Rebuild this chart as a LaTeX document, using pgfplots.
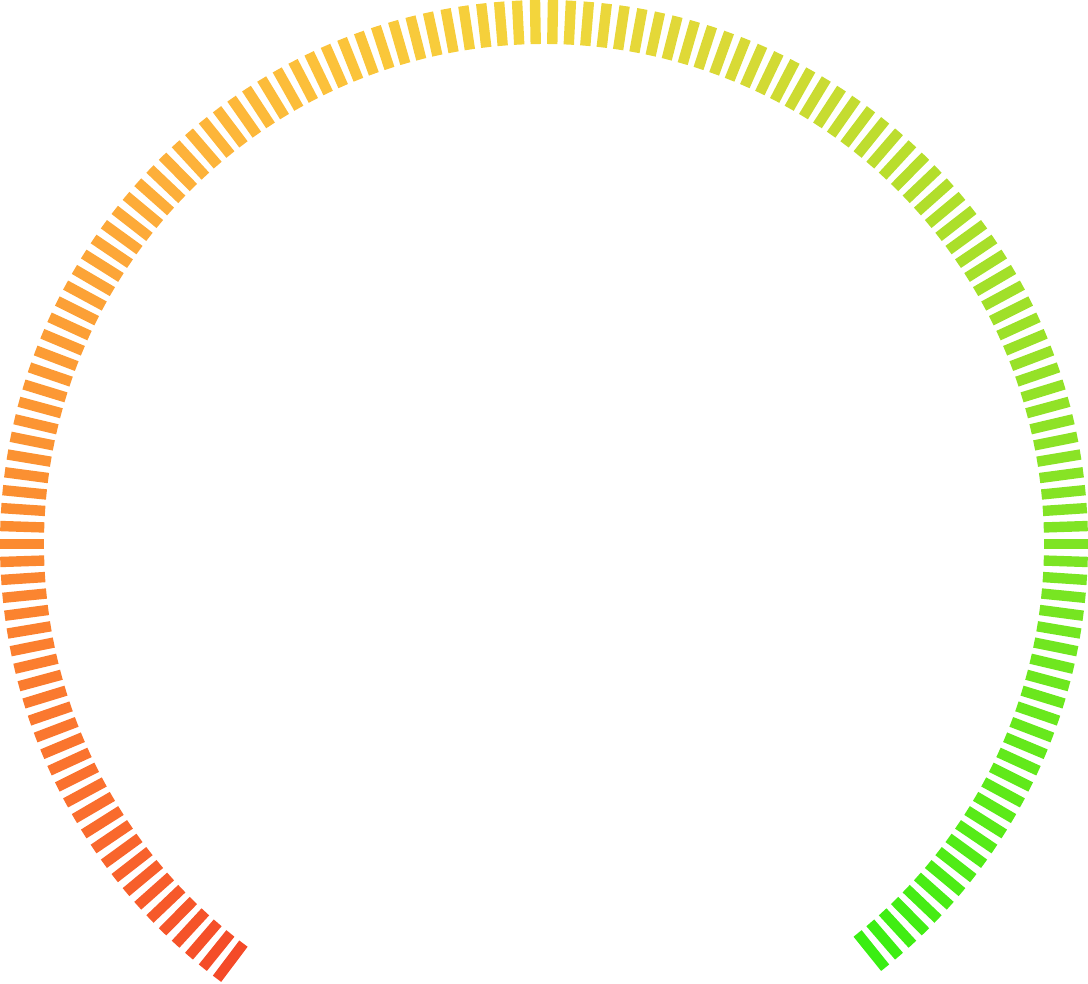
\documentclass[border=0pt]{standalone}
\usepackage{pgfplots}
\usepackage{pgfplotstable}
\pgfplotsset{compat=1.18}
\usepgfplotslibrary{polar}
\def\gang{0}
\pgfdeclareplotmark{gbar}{%
  \pgfscope
  \pgftransformrotate{\gang}%
  \pgfpathrectangle{\pgfqpoint{-5.5pt}{-1.3pt}}{\pgfqpoint{11pt}{2.6pt}}%
  \pgfusepathqfill
  \endpgfscope}
\pgfplotstableread{
a r
-51.158 522
-49.263 522
-47.368 522
-45.474 522
-43.579 522
-41.684 522
-39.789 522
-37.895 522
-36.000 522
-34.105 522
-32.211 522
-30.316 522
-28.421 522
-26.526 522
-24.632 522
-22.737 522
-20.842 522
-18.947 522
-17.053 522
-15.158 522
-13.263 522
-11.368 522
-9.474 522
-7.579 522
-5.684 522
-3.789 522
-1.895 522
0.000 522
1.895 522
3.789 522
5.684 522
7.579 522
9.474 522
11.368 522
13.263 522
15.158 522
17.053 522
18.947 522
20.842 522
22.737 522
24.632 522
26.526 522
28.421 522
30.316 522
32.211 522
34.105 522
36.000 522
37.895 522
39.789 522
41.684 522
43.579 522
45.474 522
47.368 522
49.263 522
51.158 522
53.053 522
54.947 522
56.842 522
58.737 522
60.632 522
62.526 522
64.421 522
66.316 522
68.211 522
70.105 522
72.000 522
73.895 522
75.789 522
77.684 522
79.579 522
81.474 522
83.368 522
85.263 522
87.158 522
89.053 522
90.947 522
92.842 522
94.737 522
96.632 522
98.526 522
100.421 522
102.316 522
104.211 522
106.105 522
108.000 522
109.895 522
111.789 522
113.684 522
115.579 522
117.474 522
119.368 522
121.263 522
123.158 522
125.053 522
126.947 522
128.842 522
130.737 522
132.632 522
134.526 522
136.421 522
138.316 522
140.211 522
142.105 522
144.000 522
145.895 522
147.789 522
149.684 522
151.579 522
153.474 522
155.368 522
157.263 522
159.158 522
161.053 522
162.947 522
164.842 522
166.737 522
168.632 522
170.526 522
172.421 522
174.316 522
176.211 522
178.105 522
180.000 522
181.895 522
183.789 522
185.684 522
187.579 522
189.474 522
191.368 522
193.263 522
195.158 522
197.053 522
198.947 522
200.842 522
202.737 522
204.632 522
206.526 522
208.421 522
210.316 522
212.211 522
214.105 522
216.000 522
217.895 522
219.789 522
221.684 522
223.579 522
225.474 522
227.368 522
229.263 522
231.158 522
233.053 522
}\gaugeticks
\begin{document}
\begin{tikzpicture}
\begin{polaraxis}[
  name=ax,
  at={(0,0)}, anchor=origin,
  hide axis,
  scale only axis,
  width=272pt, height=272pt,
  xmin=0, xmax=360,
  ymin=0, ymax=544,
  clip=false,
  colormap={gauge}{
    rgb255(0pt)=(58,238,18);
    rgb255(20pt)=(91,234,24);
    rgb255(51pt)=(126,228,36);
    rgb255(96pt)=(181,222,44);
    rgb255(118pt)=(214,218,53);
    rgb255(141pt)=(243,214,60);
    rgb255(165pt)=(252,194,58);
    rgb255(186pt)=(253,176,58);
    rgb255(231pt)=(251,138,48);
    rgb255(261pt)=(250,110,46);
    rgb255(284pt)=(244,74,40)
  },
  point meta min=-51.158, point meta max=233.053,
]
\addplot[
  scatter, only marks, mark=gbar,
  point meta=\thisrow{a},
  visualization depends on={\thisrow{a}\as\gang},
] table[x=a, y=r] {\gaugeticks};
\end{polaraxis}
\pgfresetboundingbox
\path (-136pt,136pt) rectangle (136pt,-109.75pt);
\end{tikzpicture}
\end{document}
